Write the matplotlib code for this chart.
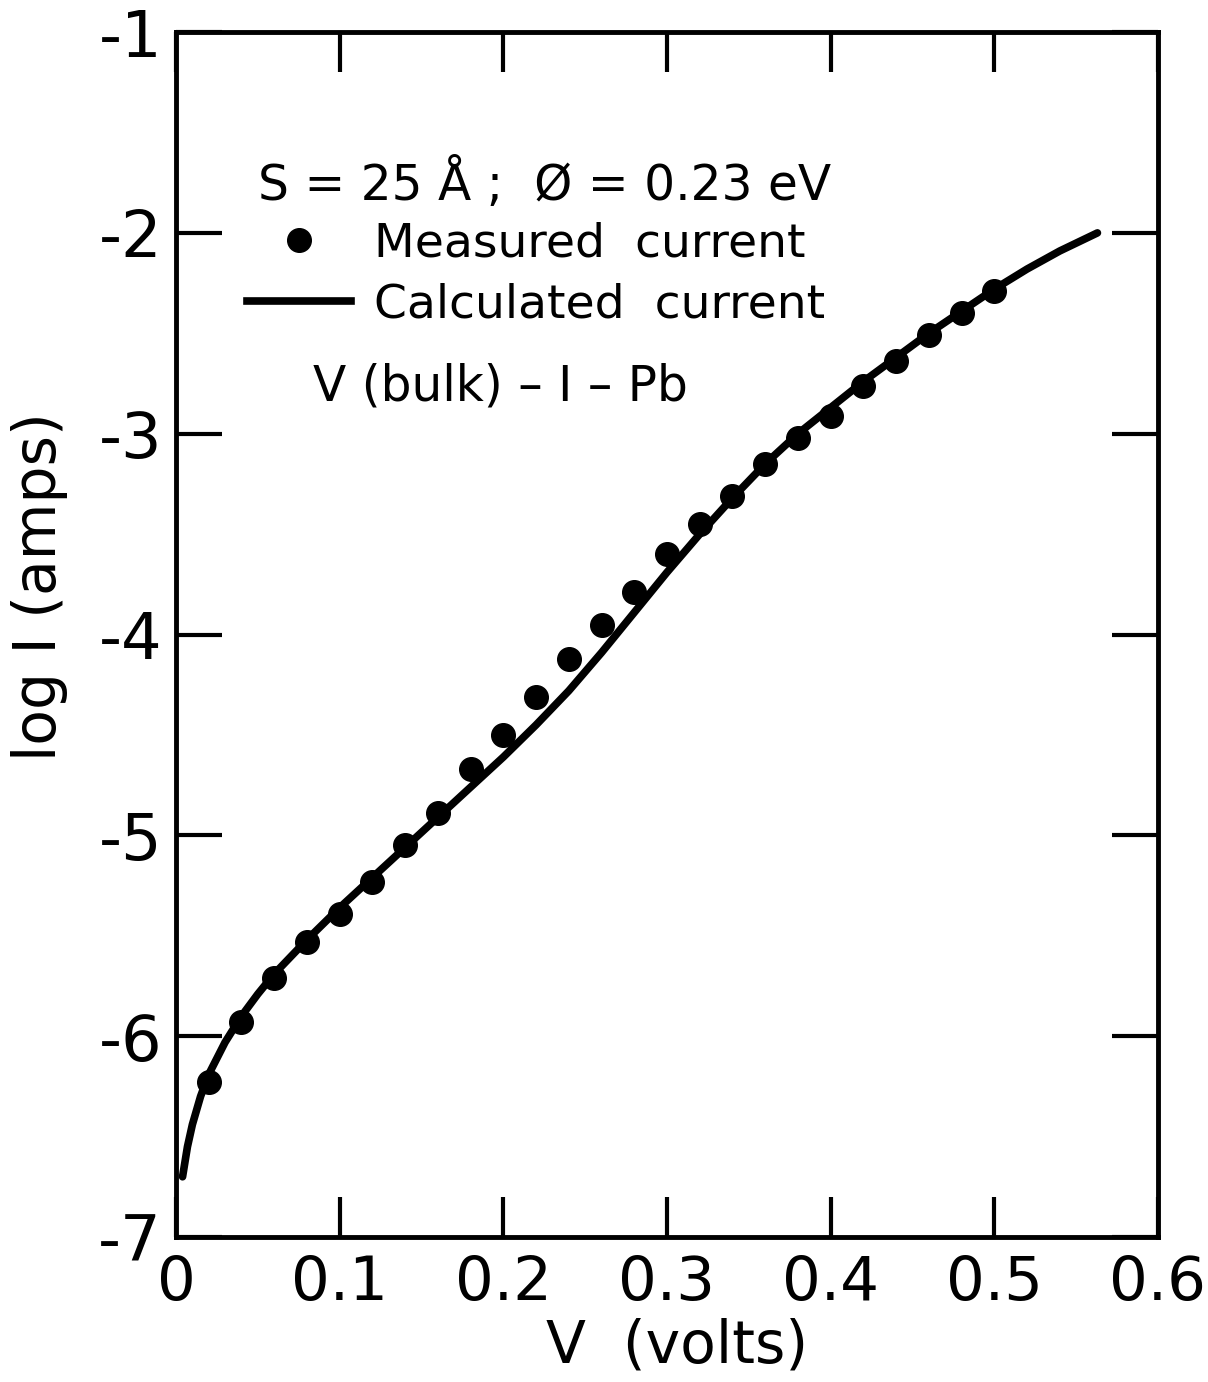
import numpy as np
import matplotlib.pyplot as plt
from matplotlib.lines import Line2D

# measured current (dots)
v_meas = [0.02, 0.04, 0.06, 0.08, 0.10, 0.12, 0.14, 0.16, 0.18, 0.20,
          0.22, 0.24, 0.26, 0.28, 0.30, 0.32, 0.34, 0.36, 0.38, 0.40,
          0.42, 0.44, 0.46, 0.48, 0.50]
logi_meas = [-6.23, -5.93, -5.71, -5.53, -5.39, -5.23, -5.05, -4.89, -4.67, -4.50,
             -4.31, -4.12, -3.95, -3.79, -3.60, -3.45, -3.31, -3.15, -3.02, -2.91,
             -2.76, -2.64, -2.51, -2.40, -2.29]

# calculated current (solid curve)
v_calc = [0.004, 0.007, 0.01, 0.015, 0.02, 0.03, 0.04, 0.05, 0.06, 0.08,
          0.10, 0.12, 0.14, 0.16, 0.18, 0.20, 0.22, 0.24, 0.26, 0.28,
          0.30, 0.32, 0.34, 0.36, 0.38, 0.40, 0.42, 0.44, 0.46, 0.48,
          0.50, 0.52, 0.54, 0.563]
logi_calc = [-6.70, -6.55, -6.44, -6.30, -6.19, -6.03, -5.90, -5.79, -5.69, -5.52,
             -5.36, -5.21, -5.06, -4.91, -4.76, -4.61, -4.45, -4.28, -4.09, -3.89,
             -3.69, -3.50, -3.32, -3.15, -3.00, -2.87, -2.74, -2.62, -2.50, -2.39,
             -2.28, -2.18, -2.09, -2.0]

xticks = [0, 0.1, 0.2, 0.3, 0.4, 0.5, 0.6]
xticklabels = ['0', '0.1', '0.2', '0.3', '0.4', '0.5', '0.6']
yticks = [-7, -6, -5, -4, -3, -2, -1]
yticklabels = ['-7', '-6', '-5', '-4', '-3', '-2', '-1']

fig = plt.figure(figsize=(12.08, 13.82), dpi=100)
ax = fig.add_axes([0.1457, 0.1049, 0.8129, 0.8719])

ax.plot(v_calc, logi_calc, '-', color='black', lw=5.5,
        solid_capstyle='round', solid_joinstyle='round')
ax.plot(v_meas, logi_meas, 'o', color='black', ms=17)

ax.set_xlim(0, 0.6)
ax.set_ylim(-7, -1)
ax.set_xticks(xticks)
ax.set_xticklabels(xticklabels)
ax.set_yticks(yticks)
ax.set_yticklabels(yticklabels)

for s in ax.spines.values():
    s.set_linewidth(3.5)
ax.tick_params(axis='both', direction='in', top=True, right=True,
               width=3, labelsize=44, pad=10)
ax.tick_params(axis='y', length=33, labelsize=46)
ax.tick_params(axis='x', length=29, pad=12)

ax.set_xlabel('V  (volts)', fontsize=42)
ax.set_ylabel('log I (amps)', fontsize=42)
ax.xaxis.set_label_coords(0.51, -0.067)
ax.yaxis.set_label_coords(-0.11, 0.54)

# legend block
ax.text(0.083, 0.874, 'S = 25 \u00c5 ;  \u00d8 = 0.23 eV', transform=ax.transAxes,
        fontsize=35, va='center', ha='left')
handles = [Line2D([], [], ls='none', marker='o', color='black', ms=17),
           Line2D([], [], ls='-', color='black', lw=5.5)]
ax.legend(handles, ['Measured  current', 'Calculated  current'],
          loc='upper left', bbox_to_anchor=(0.072, 0.843), frameon=False,
          fontsize=34, handlelength=2.2, handletextpad=0.5,
          labelspacing=0.35, borderpad=0, borderaxespad=0)
ax.text(0.139, 0.706, 'V (bulk) \u2013 I \u2013 Pb', transform=ax.transAxes,
        fontsize=35, va='center', ha='left')

fig.savefig('out.png', dpi=100)
